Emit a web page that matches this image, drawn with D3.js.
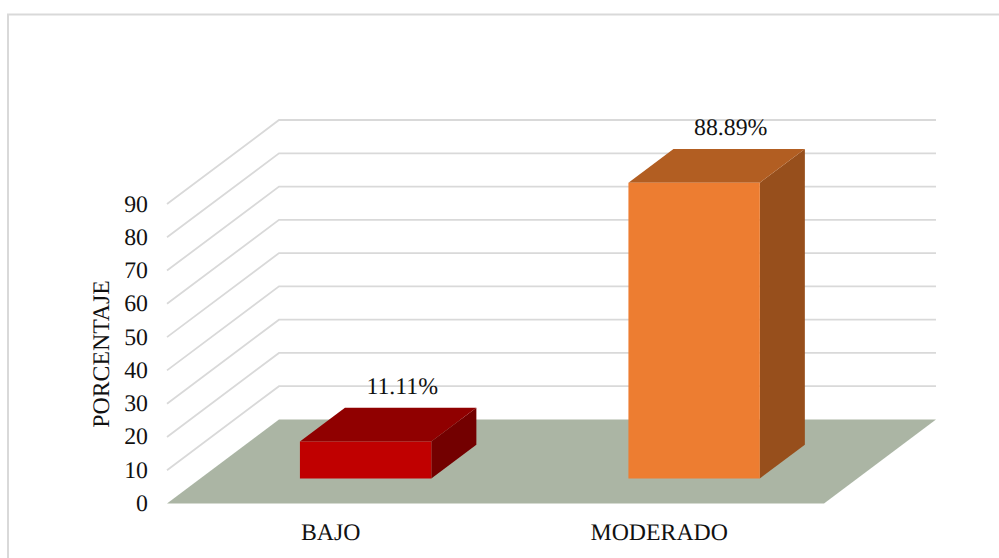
<!DOCTYPE html>
<html>
<head>
<meta charset="utf-8">
<script src="https://cdn.jsdelivr.net/npm/d3@7"></script>
<style>
  html, body { margin: 0; padding: 0; background: #fff; overflow: hidden; }
  text { font-family: "Liberation Serif", serif; fill: #111; text-rendering: geometricPrecision; }
</style>
</head>
<body>
<div id="chart"></div>
<script>
const categories = ['BAJO', 'MODERADO'];
const values = [11.11, 88.89];
const valueLabels = ['11.11%', '88.89%'];
const barColors = ['#c00000', '#ed7d31'];
const topColors = ['#900000', '#b25e22'];
const sideColors = ['#730000', '#974f1c'];
const yTicks = [0, 10, 20, 30, 40, 50, 60, 70, 80, 90];

const w = 999;
const h = 558;
const fontSize = 23.8;

// front edge of the floor and how far the box goes back
const x0 = 167;
const x1 = 824;
const x = d3.scaleBand().domain(categories).range([x0 + 1, x1 + 1]).paddingInner(0.6).paddingOuter(0.3);
const y = d3.scaleLinear().domain([0, 90]).range([503.5, 204]);
const depthX = d3.scaleLinear().domain([0, 1]).range([0, 112]);
const depthY = d3.scaleLinear().domain([0, 1]).range([0, -84]);

const barFront = 0.298;
const barBack = 0.7;

// project a point: a = x pixel on front edge, v = value, d = depth 0..1
const pt = (a, v, d) => [a + depthX(d), y(v) + depthY(d)];
const poly = pts => pts.map(p => p.join(',')).join(' ');

const svg = d3.select('#chart')
    .append('svg')
    .attr('width', w)
    .attr('height', h)
    .style('display', 'block');

// outer frame, only left and top are visible
svg.append('path')
    .attr('d', `M8,${h} V14.5 H${w}`)
    .attr('fill', 'none')
    .attr('stroke', '#d9d9d9')
    .attr('stroke-width', 2);

// gridlines
svg.append('g')
    .selectAll('polyline')
    .data(yTicks.slice(1))
    .enter()
    .append('polyline')
    .attr('points', d => poly([pt(x0, d, 0), pt(x0, d, 1), pt(x1, d, 1)]))
    .attr('fill', 'none')
    .attr('stroke', '#d9d9d9')
    .attr('stroke-width', 1.8);

// floor
svg.append('polygon')
    .attr('points', poly([pt(x0, 0, 0), pt(x0, 0, 1), pt(x1, 0, 1), pt(x1, 0, 0)]))
    .attr('fill', '#abb5a4');

// bars
const bar = svg.selectAll('g.bar')
    .data(categories)
    .enter()
    .append('g')
    .attr('class', 'bar');

bar.append('polygon')
    .attr('points', (d, i) => {
        const r = x(d) + x.bandwidth();
        return poly([pt(r, 0, barFront), pt(r, 0, barBack), pt(r, values[i], barBack), pt(r, values[i], barFront)]);
    })
    .attr('fill', (d, i) => sideColors[i]);

bar.append('polygon')
    .attr('points', (d, i) => {
        const l = x(d);
        const r = l + x.bandwidth();
        return poly([pt(l, values[i], barFront), pt(l, values[i], barBack), pt(r, values[i], barBack), pt(r, values[i], barFront)]);
    })
    .attr('fill', (d, i) => topColors[i]);

bar.append('polygon')
    .attr('points', (d, i) => {
        const l = x(d);
        const r = l + x.bandwidth();
        return poly([pt(l, 0, barFront), pt(l, values[i], barFront), pt(r, values[i], barFront), pt(r, 0, barFront)]);
    })
    .attr('fill', (d, i) => barColors[i]);

// value labels
bar.append('text')
    .attr('x', (d, i) => x(d) + x.bandwidth() / 2 + 70)
    .attr('y', (d, i) => pt(x(d), values[i], barBack)[1] - 13.5)
    .attr('text-anchor', 'middle')
    .style('font-size', fontSize + 'px')
    .text((d, i) => valueLabels[i]);

// y axis labels
svg.append('g')
    .selectAll('text')
    .data(yTicks)
    .enter()
    .append('text')
    .attr('x', 148)
    .attr('y', d => y(d) + 7.5)
    .attr('text-anchor', 'end')
    .style('font-size', fontSize + 'px')
    .text(d => d);

// category labels
svg.append('g')
    .selectAll('text')
    .data(categories)
    .enter()
    .append('text')
    .attr('x', d => x(d) + x.bandwidth() / 2 - 1.5)
    .attr('y', 539.5)
    .attr('text-anchor', 'middle')
    .style('font-size', fontSize + 'px')
    .text(d => d);

// axis title
svg.append('text')
    .attr('transform', 'translate(109, 354) rotate(-90)')
    .attr('text-anchor', 'middle')
    .style('font-size', fontSize + 'px')
    .text('PORCENTAJE');
</script>
</body>
</html>
